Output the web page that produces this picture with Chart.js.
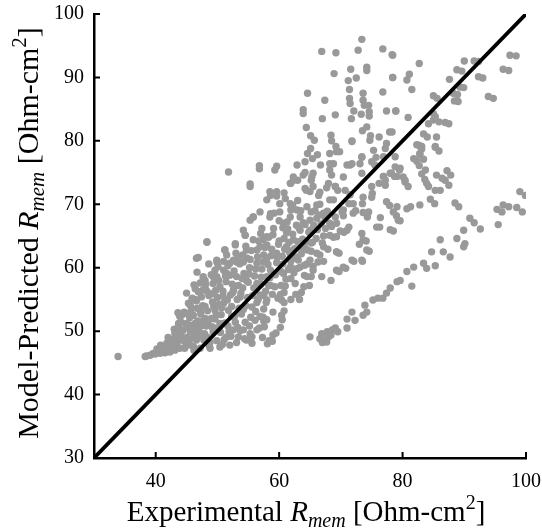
<!DOCTYPE html>
<html>
<head>
<meta charset="utf-8">
<script src="https://cdn.jsdelivr.net/npm/chart.js@4.4.1/dist/chart.umd.min.js"></script>
<style>
  html, body { margin: 0; padding: 0; background: #fff; }
  #wrap { width: 542px; height: 532px; }
</style>
</head>
<body>
<div id="wrap"><canvas id="rmemChart"></canvas></div>
<script>
// tick values
const xTicks = [40, 60, 80, 100];
const yTicks = [30, 40, 50, 60, 70, 80, 90, 100];

// parity line (experimental = predicted)
const parity = [[30, 30], [100, 100]];

// dense cloud, lower left [experimental, predicted]
const denseCloud = [
  [33.9,46.0],[38.3,46.0],[38.5,46.1],[39.1,46.2],[39.6,46.5],[39.9,46.4],[40.7,46.5],[41.0,46.7],[41.5,46.6],
  [42.3,46.7],[42.3,47.3],[43.1,47.0],[43.9,47.3],[42.3,48.6],[42.6,48.6],[43.1,49.6],[43.7,50.7],[43.7,51.2],
  [43.9,52.3],[44.2,52.5],[45.6,54.1],[46.6,54.8],[46.9,56.2],[46.6,54.9],[47.7,56.5],[48.0,58.0],[46.6,61.5],
  [48.3,64.0],[49.3,58.6],[49.9,60.9],[51.2,62.8],[51.5,62.0],[52.9,63.6],[53.1,60.9],[54.2,60.9],[54.5,65.1],
  [55.8,68.0],[57.4,64.4],[60.4,54.9],[60.4,52.5],[48.0,56.7],[47.7,58.3],[49.3,58.7],[49.1,55.9],[47.2,53.3],
  [48.0,52.0],[45.0,51.2],[45.6,49.9],[43.9,48.6],[45.6,47.8],[47.2,47.3],[48.8,47.3],[50.4,47.5],[52.0,47.8],
  [53.4,49.1],[54.2,50.2],[55.3,49.6],[54.7,48.6],[56.1,51.7],[57.4,52.2],[58.0,54.9],[56.9,55.7],[56.4,57.5],
  [58.0,58.6],[54.7,58.0],[53.1,58.6],[51.5,59.1],[50.4,57.0],[51.0,54.4],[52.3,52.3],[50.4,51.2],[49.3,49.9],
  [48.3,49.1],[46.6,48.6],[52.6,50.2],[53.7,55.4],[52.6,56.5],[49.6,53.3],[51.5,49.1],[46.6,50.7],[46.1,52.5],
  [47.4,55.4],[49.3,57.5],[45.3,54.4],[46.4,56.7],
  [40.2,47.2],[40.8,47.8],[41.3,46.9],[41.8,48.1],[42.0,49.0],[42.5,47.9],[42.9,48.3],[43.4,48.9],[43.0,50.3],
  [43.5,47.6],[44.0,49.3],[44.4,50.1],[44.8,48.2],[45.0,49.0],[45.2,51.0],[45.5,52.1],[45.9,50.3],[44.6,53.0],
  [45.8,53.5],[46.2,47.0],[46.5,49.5],[46.8,51.6],[46.3,55.0],[47.0,50.1],[47.3,52.7],[47.6,54.0],[47.9,49.6],
  [48.2,50.8],[48.4,53.2],[48.6,55.6],[48.8,48.2],[49.0,52.0],[47.1,56.2],[48.1,57.4],[49.2,54.6],[49.5,50.5],
  [46.2,57.3],[45.0,56.0],[49.8,52.6],[50.0,55.3],[50.2,58.0],[50.5,49.8],[50.7,53.7],[50.9,56.3],[51.2,51.3],
  [51.4,57.8],[51.6,54.9],[51.9,50.0],[50.1,60.2],[51.0,61.0],[49.6,59.6],[50.8,47.9],[52.0,58.8],[52.3,53.9],
  [52.5,56.1],[52.7,59.5],[52.9,51.4],[53.2,55.0],[53.4,57.2],[53.6,60.6],[53.9,52.7],[54.1,56.8],[54.3,59.1],
  [54.6,54.0],[54.8,61.5],[53.0,62.3],[55.0,57.7],[54.4,48.8],[53.7,50.1],[55.2,60.0],[55.5,62.7],[55.7,55.6],
  [56.0,58.7],[56.2,53.1],[56.5,61.7],[56.7,64.2],[57.0,57.4],[57.2,59.8],[57.5,62.0],[57.8,56.3],[58.0,63.6],
  [55.4,52.2],[56.8,50.5],[58.2,60.5],[57.3,49.0],[58.4,48.5],[59.0,49.4],[58.1,48.0],[58.9,48.4],[59.5,49.7],
  [60.2,50.6],[55.8,68.0],[55.6,49.1],[55.6,48.1],[56.4,50.2],[57.5,51.6],[58.0,51.8],[60.5,51.8],[60.8,53.2],
  [56.4,54.5],[57.5,53.5],[57.5,55.6],[58.6,57.2],[60.8,56.1],[60.8,54.5],[61.9,55.0],
  [41.2,47.5],[41.9,46.8],[42.7,47.4],[43.3,48.1],[43.8,49.9],[44.3,48.6],[44.1,51.4],[43.6,52.9],[44.9,50.6],
  [44.7,47.3],[45.3,48.4],[45.7,50.9],[45.1,52.8],[45.9,55.2],[46.0,48.9],[46.4,51.2],[46.7,53.6],[46.1,47.6],
  [46.9,49.2],[47.4,51.5],[47.2,57.6],[46.7,59.3],[47.8,48.6],[47.5,50.9],[48.0,53.9],[48.3,56.3],[48.5,51.6],
  [48.7,47.6],[49.1,50.7],[49.4,53.9],[49.7,56.4],[49.0,58.9],[48.6,60.6],[49.9,48.5],[49.6,51.9],[50.3,50.4],
  [50.6,52.6],[50.2,54.2],[50.9,55.5],[51.3,58.7],[51.1,48.7],[51.7,50.8],[51.8,53.3],[52.1,55.7],[52.4,57.4],
  [52.2,49.2],[52.8,52.4],[52.6,61.2],[51.7,60.3],[53.1,48.2],[53.3,50.6],[53.5,53.6],[53.8,56.0],[54.0,58.3],
  [54.2,53.4],[54.5,51.4],[54.9,55.3],[55.1,59.0],[55.3,61.3],[54.6,63.4],[55.6,53.8],[55.9,56.8],[55.2,50.8],
  [54.1,62.0],[56.2,59.8],[56.4,62.8],[56.6,55.0],[56.9,52.3],[57.1,58.5],[57.4,60.9],[57.7,63.2],[57.9,54.5],
  [58.3,57.2],[58.6,59.6],[58.7,61.9],[58.3,64.8],[57.0,65.4],[58.9,55.8],[57.6,50.7],[59.0,53.0],[59.4,58.9],
  [59.7,61.6],[60.0,64.2],[60.3,57.2],[60.6,60.6],[60.9,62.9],[61.2,65.5],[61.5,59.7],[61.8,61.6],[61.3,67.2],
  [60.6,66.3],[59.8,55.2],[61.0,57.1],[62.1,62.7],[61.6,64.0]
];

// spread above and around the parity line
const upperSpread = [
  [48.3,64.1],[46.9,61.6],[49.9,61.2],[51.2,62.8],[52.9,63.8],[54.5,65.1],[57.2,66.2],[58.5,68.0],[60.1,68.8],
  [61.8,70.1],[61.0,70.9],[61.8,73.3],[62.3,73.8],[63.9,74.6],[65.5,74.9],[64.2,72.5],[65.0,72.0],[66.4,71.4],
  [68.0,73.3],[69.1,72.8],[68.2,70.7],[67.2,68.6],[66.1,67.8],[68.2,67.0],[69.3,64.9],[69.3,62.5],[68.2,65.1],
  [65.0,65.9],[63.4,65.9],[60.7,67.0],[59.1,66.2],[58.0,64.9],[56.9,63.3],[55.8,64.4],[54.7,62.8],[53.4,61.7],
  [52.0,60.7],[51.0,59.6],[49.9,58.6],[47.7,58.6],[56.4,60.7],[58.0,61.5],[59.6,62.3],[61.2,63.3],[62.3,64.4],
  [63.4,63.3],[62.9,61.7],[61.8,60.1],[60.7,59.1],[63.4,60.1],[65.0,61.2],[66.1,62.3],[67.2,63.3],[65.5,59.6],
  [66.9,58.6],[69.3,59.6],[64.5,58.6],[69.3,67.0],[66.1,69.9],[64.5,69.6],[62.9,69.1],[61.8,68.0],[60.1,70.1],
  [58.0,70.7],[56.9,68.8],[55.3,67.5],[54.2,65.9],[51.8,75.1],[55.3,73.2],[58.5,72.0],[59.6,72.0],[59.3,75.4],
  [55.3,72.8],[56.8,75.6],[58.6,71.4],[59.6,71.3],[60.8,71.8],[61.9,73.3],[63.0,73.8],[62.2,69.8],[63.0,70.6],
  [63.5,69.0],[64.4,72.2],[65.2,73.8],[65.5,72.8],[66.6,71.9],[66.6,70.0],[67.4,67.9],[67.7,72.6],[69.5,72.2],
  [70.4,68.2],[71.3,70.1],[72.4,69.0],[73.5,70.1],[74.3,68.0],[75.1,71.7],[58.6,68.5],[61.9,69.1],[65.2,68.8],
  [67.2,68.5],[70.2,68.8],[71.3,66.4],[70.5,65.6],[68.8,64.8],[67.2,65.0],[65.2,63.9],[64.1,63.1],[66.6,62.0],
  [67.2,61.0],[65.5,60.2],[64.1,58.8],[65.2,58.6],[64.9,57.2],[63.6,56.1],[62.7,55.8],[68.4,58.0],[69.7,59.4],
  [70.8,59.9],[72.1,61.0],[73.5,61.0],[73.0,63.7],[74.1,64.2],[74.6,62.6],[69.7,62.3],[61.9,58.3],[63.0,59.9],
  [64.1,60.4],[61.9,61.0],[60.3,59.4],[62.6,57.5],[63.3,55.0],[64.0,57.0],
  [58.5,58.4],[58.8,62.9],[59.0,65.2],[59.3,57.0],[59.6,60.8],[59.9,63.7],[60.2,55.8],[60.5,61.8],[60.8,64.6],
  [61.1,58.2],[61.4,66.1],[61.7,62.4],[62.0,60.0],[60.0,67.4],[59.2,68.6],[62.2,65.3],[62.5,63.0],[62.8,66.7],
  [63.1,61.2],[63.4,68.0],[63.8,64.5],[64.2,66.8],[64.6,62.8],[65.0,67.5],[65.4,64.0],[65.8,69.0],[66.2,66.0],
  [62.4,59.2],[62.7,61.5],[63.0,64.1],[63.2,66.3],[63.6,62.2],[63.9,67.1],[64.3,64.0],[64.8,65.6],[65.2,62.6],
  [65.6,66.7],[66.0,64.6],[66.4,68.3],[66.8,66.9],[67.0,63.9],[64.5,60.6],[66.3,60.9],[67.5,66.2],[67.9,62.9],
  [67.8,68.9],[68.5,66.5],
  [56.8,76.1],[59.6,76.0],[62.9,76.2],[62.3,74.3],[64.2,75.0],[65.3,74.3],[64.2,76.7],
  [65.4,77.2],[66.7,76.2],[66.2,77.8],[64.6,78.0],[65.1,78.8],[65.1,80.8],[65.7,80.1],[64.4,82.1],[63.9,84.9],
  [63.9,84.3],[64.6,87.5],[67.0,83.5],[67.4,86.4],[66.9,94.1],[69.2,93.9],[72.8,94.3],[73.4,96.0],[76.8,94.5],
  [78.3,93.6],[68.9,90.6],[71.6,91.3],[74.2,91.6],[74.2,91.1],[78.4,90.0],[71.2,89.5],[72.5,89.9],[71.4,88.1],
  [73.6,87.5],[76.8,87.7],[71.4,86.7],[71.5,85.9],[73.6,86.4],[74.5,85.6],[73.8,85.6],[69.1,84.1],[72.1,84.7],
  [73.3,84.2],[74.6,84.6],[74.6,83.9],[77.4,84.7],[78.9,84.7],[71.7,83.5],[74.2,82.2],[73.5,81.6],[77.9,81.4],
  [68.4,80.9],[71.8,80.0],[74.8,80.8],[74.7,80.1],[76.2,80.6],[68.5,80.0],[69.2,79.1],[69.8,78.3],[68.2,78.0],
  [77.2,78.8],[73.4,77.4],[75.7,77.4],[68.2,76.4],[68.2,75.4],[71.5,76.2],[73.1,76.4],[75.5,76.2],[78.8,75.9],
  [68.5,74.6],[76.9,74.4],[78.0,74.9],[70.4,74.3]
];

// spread to the right of the parity line
const rightSpread = [
  [97.4,93.5],[96.3,91.3],[93.9,87.0],[92.3,90.1],[91.6,92.6],[90.0,92.6],[88.8,91.2],[87.6,89.7],[89.3,88.5],
  [88.2,87.5],[88.4,86.3],[85.0,87.1],[86.9,82.9],[85.0,84.3],[85.0,83.3],[84.2,82.7],[83.4,81.1],[85.5,80.6],
  [82.3,79.4],[83.1,79.1],[85.3,79.0],[80.9,83.7],[78.9,84.7],[81.5,88.1],[80.7,89.6],[81.1,90.5],[82.7,92.2],
  [78.4,93.5],[78.4,90.0],[78.3,81.4],[92.3,92.5],[93.0,89.9],[94.7,86.7],[97.2,91.1],[98.4,93.4],[89.6,91.0],
  [89.9,88.4],[88.9,87.3],[89.0,86.2],[85.6,86.7],[85.3,83.8],[85.9,83.0],[87.5,82.7],[84.0,80.6],[82.8,79.2],
  [82.8,77.8],[85.9,78.4],[83.1,78.7],[82.3,76.8],[83.4,77.1],[83.7,75.4],[84.2,72.8],[85.2,70.1],[86.4,74.1],
  [86.1,72.2],[87.8,74.6],[87.5,73.0],[89.1,69.6],[76.2,73.3],[77.2,73.8],[77.9,69.8],[79.0,68.2],[78.7,74.4],
  [79.5,75.4],[80.4,73.8],[80.9,72.8],[81.3,69.6],[79.6,67.4],[78.5,65.8],[76.3,66.4],[99.9,71.4],[97.2,69.6],
  [84.5,70.8],[82.8,69.9],[85.3,72.2],[86.9,73.8],[87.2,75.3],[85.5,74.6],[83.9,73.3],[83.6,73.9],[83.1,74.8],
  [82.7,76.1],[85.3,79.1],[82.6,79.3],[82.8,78.0],[81.8,77.2],[80.4,73.5],[80.1,74.3],[79.6,75.7],[79.1,74.4],
  [78.2,74.9],[78.8,77.5],[76.9,77.5],[76.9,74.4],[75.0,76.7],[75.0,72.8],[77.2,73.0],[77.4,70.4],[78.5,68.8],
  [79.1,69.6],[79.3,67.5],[80.7,69.3],[78.0,66.0],[76.4,67.9],[75.8,66.4],[75.0,71.1],[74.5,68.8],[73.6,68.7],
  [73.4,65.4],[73.6,64.4],[74.2,62.8],[73.4,61.2],[71.8,61.2],[69.3,62.5],[70.4,60.1],[69.9,65.8],[71.0,65.9],
  [72.0,68.6],[72.0,70.1],[73.6,71.1],[71.5,71.5],[70.7,72.2],[73.4,74.9],[71.8,76.4],[71.0,76.2],[73.4,77.5],
  [71.8,79.9],[69.3,78.3],[68.8,76.4],[69.1,72.8],[68.8,70.7],[70.4,69.1],[69.1,68.0],[75.3,78.5],[77.4,79.6]
];

// lower branch, under the parity line
const lowerBranch = [
  [65.0,49.1],[66.6,48.8],[66.9,49.6],[67.0,48.2],[67.4,48.6],[67.7,48.3],[68.0,49.1],[67.8,49.9],[68.4,49.4],
  [68.6,50.2],[69.1,50.5],[69.5,49.9],[71.0,50.5],[71.0,51.9],[71.8,53.0],[72.3,51.7],[73.6,52.5],[73.9,54.1],
  [74.2,53.0],[75.2,54.9],[76.0,55.2],[76.8,55.2],[77.4,56.0],[78.0,56.8],[79.1,57.8],[79.6,58.0],[80.7,59.4],
  [81.5,57.1],[81.8,60.1],[83.4,60.7],[83.9,59.9],[85.3,60.3],[84.7,62.5],[86.6,62.5],[87.7,61.7],[86.1,64.4],
  [88.8,64.6],[89.9,65.9],[90.1,63.8],[89.9,63.3],[90.9,67.8],[92.6,66.1],[95.5,66.8],[95.3,69.2],[96.3,69.9],
  [98.5,69.5],[99.0,72.0],[96.1,68.8],[99.4,68.8],[91.6,67.1],[88.5,70.2]
];

const toPts = arr => arr.map(([x, y]) => ({x, y}));
const allPoints = [...denseCloud, ...upperSpread, ...rightSpread, ...lowerBranch];

const serif = '"Liberation Serif", "Times New Roman", serif';

// draw a title made of plain / italic / sub / sup parts, centred on 0
const drawRich = (ctx, parts, size) => {
  const fontFor = p => (p.it ? 'italic ' : '') + Math.round(p.sub || p.sup ? size * 0.7 : size) + 'px ' + serif;
  let total = 0;
  for (const p of parts) { ctx.font = fontFor(p); total += ctx.measureText(p.t).width; }
  let x = -total / 2;
  for (const p of parts) {
    ctx.font = fontFor(p);
    const dy = p.sub ? size * 0.2 : p.sup ? -size * 0.4 : 0;
    ctx.fillText(p.t, x, dy);
    x += ctx.measureText(p.t).width;
  }
};

const titleParts = lead => [
  {t: lead}, {t: 'R', it: true}, {t: 'mem', it: true, sub: true},
  {t: ' [Ohm-cm'}, {t: '2', sup: true}, {t: ']'}
];

const axisExtras = {
  id: 'axisExtras',
  afterDraw(chart) {
    const {ctx, chartArea: a, scales: {x, y}} = chart;
    ctx.save();
    // inward tick marks
    ctx.strokeStyle = '#000';
    ctx.lineWidth = 2;
    ctx.beginPath();
    for (const v of xTicks) {
      const px = x.getPixelForValue(v);
      ctx.moveTo(px, a.bottom); ctx.lineTo(px, a.bottom - 6);
    }
    for (const v of yTicks.slice(1)) {
      const py = y.getPixelForValue(v);
      ctx.moveTo(a.left, py); ctx.lineTo(a.left + 6, py);
    }
    ctx.stroke();
    // axis titles
    ctx.fillStyle = '#000';
    ctx.textBaseline = 'alphabetic';
    ctx.textAlign = 'left';
    ctx.save();
    ctx.translate(306, 521);
    drawRich(ctx, titleParts('Experimental '), 29);
    ctx.restore();
    ctx.save();
    ctx.translate(38, 233);
    ctx.rotate(-Math.PI / 2);
    drawRich(ctx, titleParts('Model-Predicted '), 30);
    ctx.restore();
    ctx.restore();
  }
};

new Chart(document.getElementById('rmemChart'), {
  data: {
    datasets: [
      {
        type: 'line',
        data: toPts(parity),
        borderColor: '#000',
        borderWidth: 3.8,
        pointRadius: 0,
        order: 0
      },
      {
        type: 'scatter',
        data: toPts(allPoints),
        backgroundColor: '#999999',
        borderWidth: 0,
        pointRadius: 3.7,
        order: 1
      }
    ]
  },
  options: {
    responsive: true,
    maintainAspectRatio: false,
    animation: false,
    layout: {padding: {left: 0, top: 14, right: 16, bottom: 0}},
    plugins: {legend: {display: false}, tooltip: {enabled: false}},
    scales: {
      x: {
        type: 'linear',
        min: 30,
        max: 100,
        afterBuildTicks: s => { s.ticks = xTicks.map(value => ({value})); },
        afterFit: s => { s.height = 74; s.paddingLeft = 0; s.paddingRight = 0; },
        grid: {display: false, drawTicks: false},
        border: {display: true, color: '#000', width: 2.5},
        ticks: {color: '#000', padding: 12, maxRotation: 0, font: {family: serif, size: 20}}
      },
      y: {
        type: 'linear',
        min: 30,
        max: 100,
        afterBuildTicks: s => { s.ticks = yTicks.map(value => ({value})); },
        afterFit: s => { s.width = 94; s.paddingTop = 0; s.paddingBottom = 0; },
        grid: {display: false, drawTicks: false},
        border: {display: true, color: '#000', width: 2.5},
        ticks: {color: '#000', padding: 10, font: {family: serif, size: 20}}
      }
    }
  },
  plugins: [axisExtras]
});
</script>
</body>
</html>
